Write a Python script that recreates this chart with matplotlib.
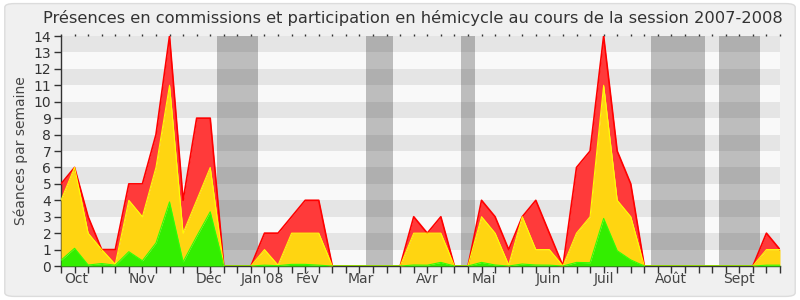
import numpy as np
import matplotlib
matplotlib.use("Agg")
import matplotlib.pyplot as plt
from matplotlib.patches import FancyBboxPatch
from matplotlib.transforms import blended_transform_factory

# Weekly values, session 2007-2008 (54 weeks), stacked tops
total = [5, 6, 3, 1, 1, 5, 5, 8, 14, 4, 9, 9, 0, 0, 0, 2, 2, 3, 4, 4,
         0, 0, 0, 0, 0, 0, 3, 2, 3, 0, 0, 4, 3, 1, 3, 4, 2, 0, 6, 7,
         14, 7, 5, 0, 0, 0, 0, 0, 0, 0, 0, 0, 2, 1]
middle = [4, 6, 2, 1, 0.1, 4, 3, 6, 11, 2, 4, 6, 0, 0, 0, 1, 0.05, 2, 2, 2,
          0, 0, 0, 0, 0, 0, 2, 2, 2, 0, 0, 3, 2, 0.06, 3, 1, 1, 0, 2, 3,
          11, 4, 3, 0, 0, 0, 0, 0, 0, 0, 0, 0, 1, 1]
lower = [0.35, 1.08, 0.06, 0.15, 0.05, 0.87, 0.32, 1.4, 3.9, 0.25, 1.8, 3.3, 0, 0, 0, 0.05, 0.02, 0.1, 0.1, 0.05,
         0, 0, 0, 0, 0, 0, 0.06, 0.05, 0.22, 0, 0, 0.22, 0.06, 0, 0.12, 0.06, 0.05, 0, 0.22, 0.2,
         2.9, 0.93, 0.37, 0, 0, 0, 0, 0, 0, 0, 0, 0, 0.05, 0.05]

# holiday periods (week index ranges)
holidays = [(11.5, 14.5), (22.5, 24.5), (29.5, 30.5), (43.5, 47.5), (48.5, 51.5)]

month_labels = ["Oct", "Nov", "Déc", "Jan 08", "Fév", "Mar", "Avr", "Mai", "Juin", "Juil", "Août", "Sept"]
month_pos = [1.15, 5.95, 10.95, 14.85, 18.2, 22.1, 27.0, 31.2, 35.95, 40.0, 44.95, 49.95]

weeks = np.arange(len(total))

fig = plt.figure(figsize=(8, 3), dpi=100, facecolor="white")
fig.patches.append(FancyBboxPatch((0.006, 0.012), 0.988, 0.976, boxstyle="round,pad=0,rounding_size=0.012",
                                  transform=fig.transFigure, facecolor="#f0f0f0", edgecolor="#dcdcdc",
                                  linewidth=1.0, zorder=-10))

ax = fig.add_axes([0.07625, 0.1133, 0.89875, 0.7667])
ax.set_facecolor("#f9f9f9")

# horizontal stripes
for y in range(1, 14, 2):
    ax.axhspan(y, y + 1, color="#e5e5e5", zorder=0, linewidth=0)

# holiday bands
for a, b in holidays:
    ax.axvspan(a, b, color="#333333", alpha=0.3, zorder=1, linewidth=0)

ax.fill_between(weeks, middle, total, color="#ff3a3a", linewidth=0, zorder=2)
ax.fill_between(weeks, lower, middle, color="#ffd511", linewidth=0, zorder=3)
ax.fill_between(weeks, 0, lower, color="#33ee00", linewidth=0, zorder=4)
ax.plot(weeks, total, color="#ff0000", linewidth=1.2, zorder=5)
ax.plot(weeks, middle, color="#ffff00", linewidth=0.8, zorder=5)
ax.plot(weeks, lower, color="#33ff00", linewidth=0.8, zorder=5)

ax.set_xlim(0, len(total) - 1)
ax.set_ylim(0, 14)
ax.set_yticks(range(0, 15))
ax.set_xticks(weeks)
ax.set_xticklabels([])
ax.tick_params(axis="y", direction="out", length=5, width=1, colors="#333333", labelsize=10, pad=2)
ax.tick_params(axis="x", direction="out", length=5, width=1, colors="#333333", top=True)
for t in ax.xaxis.get_major_ticks():
    t.tick2line.set_markersize(1.5)

for side in ["top", "right"]:
    ax.spines[side].set_visible(False)
for side in ["left", "bottom"]:
    ax.spines[side].set_color("#333333")
    ax.spines[side].set_linewidth(1)

trans = blended_transform_factory(ax.transData, fig.transFigure)
for lab, pos in zip(month_labels, month_pos):
    ax.text(pos, 1 - 279 / 300, lab, transform=trans, ha="center", va="center",
            fontsize=10, color="#444444")

ax.set_ylabel("Séances par semaine", fontsize=10, color="#444444", labelpad=4)
fig.text(413 / 800, 1 - 18 / 300, "Présences en commissions et participation en hémicycle au cours de la session 2007-2008",
         ha="center", va="center", fontsize=11.7, color="#333333")

fig.savefig("out.png", dpi=100, facecolor=fig.get_facecolor())
